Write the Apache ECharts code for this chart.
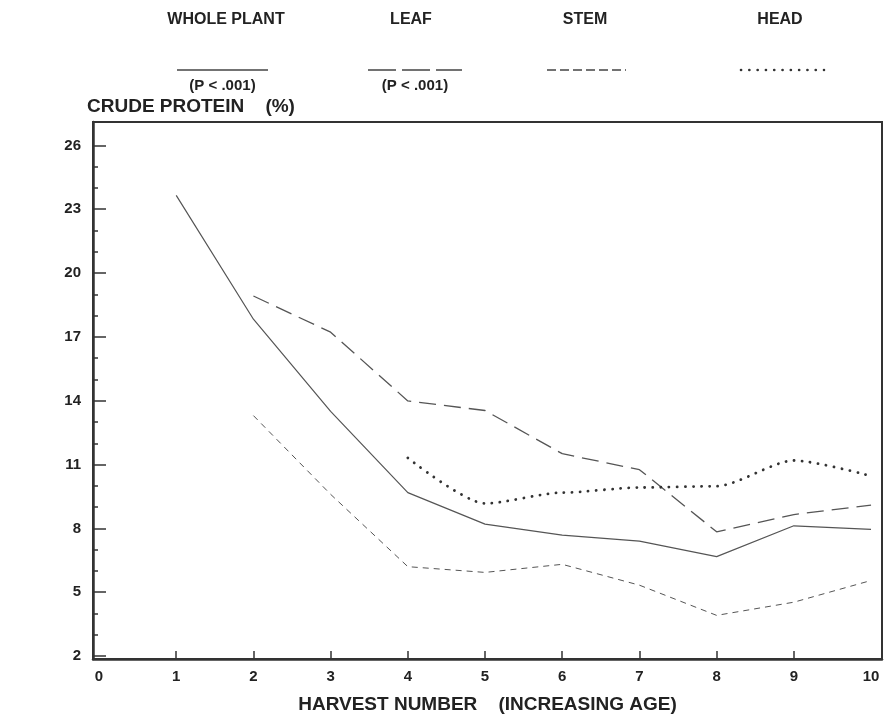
<!DOCTYPE html>
<html>
<head>
<meta charset="utf-8">
<script src="https://cdn.jsdelivr.net/npm/echarts@6/dist/echarts.min.js"></script>
<style>
  html, body { margin: 0; padding: 0; background: #fff; }
  #chart { width: 886px; height: 719px; }
</style>
</head>
<body>
<div id="chart"></div>
<script>
// ---- data ----
const harvest = [1, 2, 3, 4, 5, 6, 7, 8, 9, 10];
const wholePlant = [23.65, 17.83, 13.5, 9.68, 8.2, 7.68, 7.4, 6.67, 8.12, 7.95];
const leaf = [null, 18.92, 17.22, 13.99, 13.54, 11.51, 10.76, 7.84, 8.65, 9.09];
const stem = [null, 13.3, 9.6, 6.2, 5.93, 6.31, 5.33, 3.91, 4.53, 5.55];
const head = [null, null, null, 11.31, 9.17, 9.68, 9.92, 9.98, 11.19, 10.46];

const seriesNames = ['WHOLE PLANT', 'LEAF', 'STEM', 'HEAD'];
const pNotes = ['(P < .001)', '(P < .001)', '', ''];

const xTickLabels = [0, 1, 2, 3, 4, 5, 6, 7, 8, 9, 10];
const xTickMarks = [1, 2, 3, 4, 5, 6, 7, 8, 9];
const yTickLabels = [2, 5, 8, 11, 14, 17, 20, 23, 26];
const yMinorTicks = [3, 4, 6, 7, 9, 10, 12, 13, 15, 16, 18, 19, 21, 22, 24, 25];

const yTitle = 'CRUDE PROTEIN    (%)';
const xTitle = 'HARVEST NUMBER    (INCREASING AGE)';

// ---- build ----
function pairs(vals) {
  const out = [];
  harvest.forEach((h, i) => { if (vals[i] !== null) out.push([h, vals[i]]); });
  return out;
}

const FONT = '"Liberation Sans", Arial, Helvetica, sans-serif';
const INK = '#222';
const LINE = '#555';

const chart = echarts.init(document.getElementById('chart'), null, { renderer: 'canvas' });

const legendX = [
  { cx: 226, x1: 177, x2: 268, dash: null, width: 1.5, cap: 'butt', color: '#444' },
  { cx: 411, x1: 368, x2: 462, dash: [28, 6], width: 1.5, cap: 'butt', color: '#444' },
  { cx: 585, x1: 547, x2: 626, dash: [9, 4], width: 1.3, cap: 'butt', color: '#444' },
  { cx: 780, x1: 741, x2: 824, dash: [0.1, 8.2], width: 2.6, cap: 'round', color: '#333' }
];

const graphics = [];
seriesNames.forEach((name, i) => {
  const L = legendX[i];
  graphics.push({
    type: 'text', x: L.cx, y: 20,
    style: { text: name, fill: INK, font: 'bold 16px ' + FONT,
             textAlign: 'center', textVerticalAlign: 'middle', align: 'center', verticalAlign: 'middle' }
  });
  graphics.push({
    type: 'line', shape: { x1: L.x1, y1: 70, x2: L.x2, y2: 70 },
    style: { stroke: L.color, lineWidth: L.width, lineDash: L.dash, lineCap: L.cap }
  });
  if (pNotes[i]) {
    graphics.push({
      type: 'text', x: (L.x1 + L.x2) / 2, y: 86,
      style: { text: pNotes[i], fill: INK, font: 'bold 15px ' + FONT,
               textAlign: 'center', textVerticalAlign: 'middle', align: 'center', verticalAlign: 'middle' }
    });
  }
});
graphics.push({
  type: 'text', x: 87, y: 107,
  style: { text: yTitle, fill: INK, font: 'bold 19px ' + FONT,
           textAlign: 'left', textVerticalAlign: 'middle', align: 'left', verticalAlign: 'middle' }
});

const axisFont = { fontFamily: FONT, fontWeight: 'bold', fontSize: 15, color: INK };

const option = {
  animation: false,
  backgroundColor: '#fff',
  grid: {
    left: 93, right: 4, top: 122, bottom: 58,
    show: true, borderColor: '#333', borderWidth: 2, backgroundColor: 'transparent'
  },
  xAxis: {
    type: 'value', min: -0.078, max: 10.142,
    name: xTitle, nameLocation: 'middle', nameGap: 36,
    nameTextStyle: { fontFamily: FONT, fontWeight: 'bold', fontSize: 19, color: INK },
    axisLine: { show: true, onZero: false, lineStyle: { color: '#333', width: 2.5 } },
    axisTick: { show: true, inside: true, length: 8, customValues: xTickMarks, lineStyle: { color: '#333', width: 1.5 } },
    axisLabel: Object.assign({ customValues: xTickLabels, margin: 10 }, axisFont),
    splitLine: { show: false }
  },
  yAxis: [
    {
      type: 'value', min: 1.86, max: 27.1, position: 'left',
      axisLine: { show: true, onZero: false, lineStyle: { color: '#333', width: 2.5 } },
      axisTick: { show: true, inside: true, length: 13, customValues: yTickLabels, lineStyle: { color: '#333', width: 1.5 } },
      axisLabel: Object.assign({ customValues: yTickLabels, margin: 12 }, axisFont),
      splitLine: { show: false }
    },
    {
      type: 'value', min: 1.86, max: 27.1, position: 'left',
      axisLine: { show: false, onZero: false },
      axisTick: { show: true, inside: true, length: 5, customValues: yMinorTicks, lineStyle: { color: '#333', width: 1.5 } },
      axisLabel: { show: false },
      splitLine: { show: false }
    }
  ],
  graphic: graphics,
  series: [
    {
      name: seriesNames[0], type: 'line', data: pairs(wholePlant), symbol: 'none',
      lineStyle: { color: LINE, width: 1.2, type: 'solid' }
    },
    {
      name: seriesNames[1], type: 'line', data: pairs(leaf), symbol: 'none',
      lineStyle: { color: LINE, width: 1.3, type: [17, 8] }
    },
    {
      name: seriesNames[2], type: 'line', data: pairs(stem), symbol: 'none',
      lineStyle: { color: LINE, width: 1.0, type: [6, 5] }
    },
    {
      name: seriesNames[3], type: 'line', data: pairs(head), symbol: 'none',
      smooth: 0.25, smoothMonotone: 'x',
      lineStyle: { color: '#333', width: 2.8, type: [0.1, 8], cap: 'round' }
    }
  ]
};

chart.setOption(option);
</script>
</body>
</html>
